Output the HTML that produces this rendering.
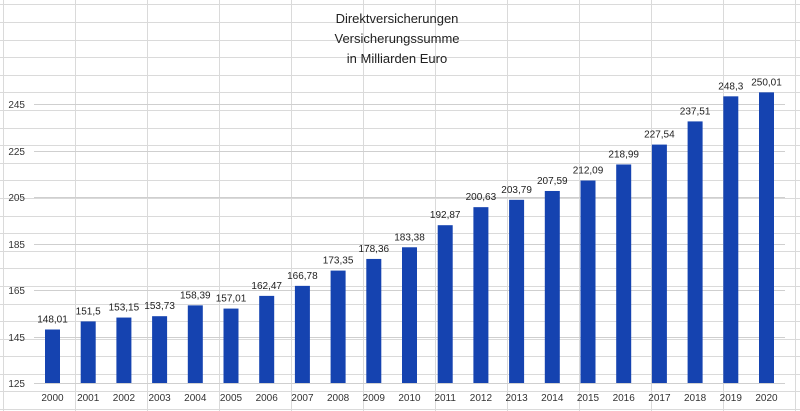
<!DOCTYPE html><html><head><style>body{margin:0;background:#fff}svg{display:block;font-family:"Liberation Sans",sans-serif}</style></head><body>
<svg width="800" height="411" xmlns="http://www.w3.org/2000/svg">
<g stroke="#dadada" stroke-width="1">
<line x1="0" y1="4.5" x2="800" y2="4.5"/><line x1="0" y1="22.5" x2="800" y2="22.5"/><line x1="0" y1="40.5" x2="800" y2="40.5"/><line x1="0" y1="57.5" x2="800" y2="57.5"/><line x1="0" y1="75.5" x2="800" y2="75.5"/><line x1="0" y1="92.5" x2="800" y2="92.5"/><line x1="0" y1="110.5" x2="800" y2="110.5"/><line x1="0" y1="128.5" x2="800" y2="128.5"/><line x1="0" y1="145.5" x2="800" y2="145.5"/><line x1="0" y1="163.5" x2="800" y2="163.5"/><line x1="0" y1="180.5" x2="800" y2="180.5"/><line x1="0" y1="198.5" x2="800" y2="198.5"/><line x1="0" y1="216.5" x2="800" y2="216.5"/><line x1="0" y1="233.5" x2="800" y2="233.5"/><line x1="0" y1="251.5" x2="800" y2="251.5"/><line x1="0" y1="268.5" x2="800" y2="268.5"/><line x1="0" y1="286.5" x2="800" y2="286.5"/><line x1="0" y1="304.5" x2="800" y2="304.5"/><line x1="0" y1="321.5" x2="800" y2="321.5"/><line x1="0" y1="339.5" x2="800" y2="339.5"/><line x1="0" y1="356.5" x2="800" y2="356.5"/><line x1="0" y1="374.5" x2="800" y2="374.5"/><line x1="0" y1="391.5" x2="800" y2="391.5"/><line x1="0" y1="409.5" x2="800" y2="409.5"/>
<line x1="3.5" y1="0" x2="3.5" y2="411"/><line x1="75.5" y1="0" x2="75.5" y2="411"/><line x1="147.5" y1="0" x2="147.5" y2="411"/><line x1="219.5" y1="0" x2="219.5" y2="411"/><line x1="291.5" y1="0" x2="291.5" y2="411"/><line x1="363.5" y1="0" x2="363.5" y2="411"/><line x1="435.5" y1="0" x2="435.5" y2="411"/><line x1="507.5" y1="0" x2="507.5" y2="411"/><line x1="579.5" y1="0" x2="579.5" y2="411"/><line x1="651.5" y1="0" x2="651.5" y2="411"/><line x1="723.5" y1="0" x2="723.5" y2="411"/><line x1="795.5" y1="0" x2="795.5" y2="411"/>
</g>
<g stroke="#cfcfcf"><line x1="34" y1="104.5" x2="785" y2="104.5"/><line x1="34" y1="151.5" x2="785" y2="151.5"/><line x1="34" y1="197.5" x2="785" y2="197.5"/><line x1="34" y1="244.5" x2="785" y2="244.5"/><line x1="34" y1="290.5" x2="785" y2="290.5"/><line x1="34" y1="337.5" x2="785" y2="337.5"/><line x1="34" y1="383.5" x2="785" y2="383.5"/></g>
<g font-size="13" fill="#222" text-anchor="middle"><text x="397" y="23">Direktversicherungen</text><text x="397" y="43">Versicherungssumme</text><text x="397" y="63">in Milliarden Euro</text></g>
<g font-size="10" fill="#333" text-anchor="end"><text x="25" y="108">245</text><text x="25" y="155">225</text><text x="25" y="201">205</text><text x="25" y="248">185</text><text x="25" y="294">165</text><text x="25" y="341">145</text><text x="25" y="387">125</text></g>
<g fill="#1543b0">
<rect x="45" y="329.5" width="15" height="53.5"/>
<rect x="80.7" y="321.4" width="15" height="61.6"/>
<rect x="116.4" y="317.55" width="15" height="65.45"/>
<rect x="152.1" y="316.2" width="15" height="66.8"/>
<rect x="187.8" y="305.37" width="15" height="77.63"/>
<rect x="223.5" y="308.58" width="15" height="74.42"/>
<rect x="259.2" y="295.88" width="15" height="87.12"/>
<rect x="294.9" y="285.86" width="15" height="97.14"/>
<rect x="330.6" y="270.59" width="15" height="112.41"/>
<rect x="366.3" y="258.94" width="15" height="124.06"/>
<rect x="402" y="247.27" width="15" height="135.73"/>
<rect x="437.7" y="225.2" width="15" height="157.8"/>
<rect x="473.4" y="207.16" width="15" height="175.84"/>
<rect x="509.1" y="199.81" width="15" height="183.19"/>
<rect x="544.8" y="190.98" width="15" height="192.02"/>
<rect x="580.5" y="180.52" width="15" height="202.48"/>
<rect x="616.2" y="164.47" width="15" height="218.53"/>
<rect x="651.9" y="144.59" width="15" height="238.41"/>
<rect x="687.6" y="121.41" width="15" height="261.59"/>
<rect x="723.3" y="96.33" width="15" height="286.67"/>
<rect x="759" y="92.35" width="15" height="290.65"/>
</g>
<g font-size="10" fill="#222" text-anchor="middle">
<text x="52.5" y="322.5">148,01</text>
<text x="88.2" y="314.4">151,5</text>
<text x="123.9" y="310.5">153,15</text>
<text x="159.6" y="309.2">153,73</text>
<text x="195.3" y="298.4">158,39</text>
<text x="231" y="301.6">157,01</text>
<text x="266.7" y="288.9">162,47</text>
<text x="302.4" y="278.9">166,78</text>
<text x="338.1" y="263.6">173,35</text>
<text x="373.8" y="251.9">178,36</text>
<text x="409.5" y="240.3">183,38</text>
<text x="445.2" y="218.2">192,87</text>
<text x="480.9" y="200.2">200,63</text>
<text x="516.6" y="192.8">203,79</text>
<text x="552.3" y="184">207,59</text>
<text x="588" y="173.5">212,09</text>
<text x="623.7" y="157.5">218,99</text>
<text x="659.4" y="137.6">227,54</text>
<text x="695.1" y="114.4">237,51</text>
<text x="730.8" y="89.3">248,3</text>
<text x="766.5" y="85.4">250,01</text>
</g>
<g font-size="10" fill="#333" text-anchor="middle">
<text x="52.5" y="401">2000</text><text x="88.2" y="401">2001</text><text x="123.9" y="401">2002</text><text x="159.6" y="401">2003</text><text x="195.3" y="401">2004</text><text x="231" y="401">2005</text><text x="266.7" y="401">2006</text><text x="302.4" y="401">2007</text><text x="338.1" y="401">2008</text><text x="373.8" y="401">2009</text><text x="409.5" y="401">2010</text><text x="445.2" y="401">2011</text><text x="480.9" y="401">2012</text><text x="516.6" y="401">2013</text><text x="552.3" y="401">2014</text><text x="588" y="401">2015</text><text x="623.7" y="401">2016</text><text x="659.4" y="401">2017</text><text x="695.1" y="401">2018</text><text x="730.8" y="401">2019</text><text x="766.5" y="401">2020</text>
</g>
</svg></body></html>
